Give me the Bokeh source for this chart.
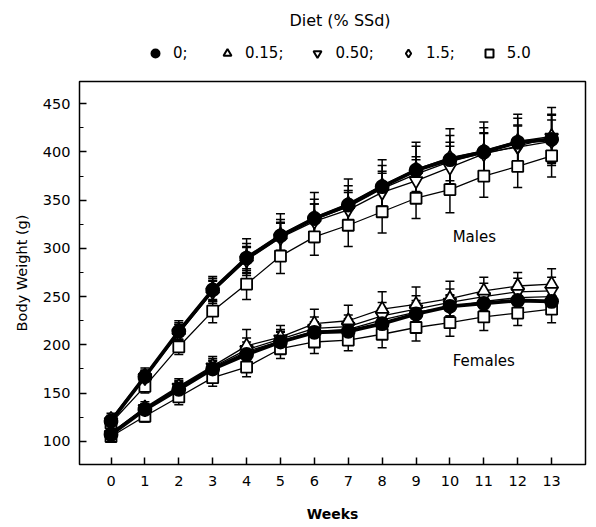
from bokeh.plotting import figure
from bokeh.layouts import column
from bokeh.models import (Range1d, ColumnDataSource, Whisker, TeeHead, Legend,
                          LegendItem, Label, FixedTicker, SingleIntervalTicker)
from bokeh.embed import file_html
from bokeh.resources import INLINE

weeks = list(range(14))
week_labels = [str(w) for w in weeks]
diet_labels = ["0;", "0.15;", "0.50;", "1.5;", "5.0"]

male_0   = [121, 167, 214, 257, 290, 313, 331, 345, 364, 381, 392, 400, 410, 413]
male_015 = [123, 168, 215, 258, 291, 314, 332, 346, 365, 382, 394, 401, 411, 416]
male_050 = [120, 166, 212, 255, 288, 311, 328, 340, 358, 370, 384, 398, 406, 415]
male_15  = [122, 167, 213, 256, 289, 312, 330, 343, 362, 377, 390, 399, 405, 411]
male_50  = [119, 157, 198, 235, 263, 292, 312, 324, 338, 352, 361, 375, 385, 396]

male_0_sd   = [5, 7, 9, 12, 15, 17, 20, 20, 22, 25, 25, 25, 25, 25]
male_015_sd = [6, 8, 10, 13, 19, 22, 26, 26, 27, 28, 30, 30, 28, 30]
male_050_sd = [5, 7, 9, 12, 14, 16, 18, 18, 20, 22, 22, 22, 22, 24]
male_15_sd  = [5, 6, 8, 10, 12, 14, 16, 17, 18, 18, 20, 20, 22, 22]
male_50_sd  = [5, 7, 8, 12, 16, 18, 19, 22, 22, 21, 24, 22, 22, 22]

female_0   = [107, 133, 154, 175, 190, 203, 213, 214, 222, 232, 240, 243, 246, 245]
female_015 = [109, 135, 157, 178, 199, 208, 222, 225, 237, 242, 248, 256, 261, 263]
female_050 = [107, 134, 156, 177, 195, 206, 217, 219, 230, 237, 244, 250, 255, 256]
female_15  = [106, 133, 155, 176, 193, 204, 214, 216, 226, 234, 239, 245, 249, 250]
female_50  = [105, 126, 146, 166, 177, 196, 203, 205, 211, 218, 223, 229, 233, 237]

female_0_sd   = [4, 6, 7, 8, 10, 10, 11, 11, 12, 12, 12, 12, 12, 12]
female_015_sd = [4, 6, 8, 10, 17, 12, 15, 16, 18, 18, 18, 14, 14, 16]
female_050_sd = [4, 5, 7, 9, 12, 10, 12, 12, 14, 14, 14, 14, 14, 14]
female_15_sd  = [4, 5, 7, 8, 10, 10, 10, 11, 12, 12, 12, 12, 12, 12]
female_50_sd  = [4, 6, 8, 9, 10, 10, 12, 11, 14, 14, 14, 14, 13, 14]

FONT = "DejaVu Sans"
W = 596
TOP_H = 78
MAIN_H = 527 - TOP_H
LEFT = 79
RIGHT = 11

# ---------------- main chart ----------------
p = figure(width=W, height=MAIN_H, output_backend="svg", toolbar_location=None,
           x_range=Range1d(-0.93, 14.0), y_range=Range1d(76, 473),
           min_border_left=LEFT, min_border_right=RIGHT, min_border_top=3,
           min_border_bottom=63)
p.grid.visible = False
p.outline_line_color = "black"
p.outline_line_width = 1.5
p.background_fill_color = "white"
p.border_fill_color = "white"

for ax in (p.xaxis[0], p.yaxis[0]):
    ax.axis_line_color = None
    ax.major_tick_in = 7
    ax.major_tick_out = 0
    ax.minor_tick_in = 4
    ax.minor_tick_out = 0
    ax.major_tick_line_width = 1.5
    ax.major_tick_line_color = "black"
    ax.minor_tick_line_color = "black"
    ax.major_label_text_font = FONT
    ax.major_label_text_font_size = "14.5px"
    ax.major_label_text_color = "black"
    ax.axis_label_text_font = FONT
    ax.axis_label_text_color = "black"

p.xaxis.ticker = FixedTicker(ticks=weeks)
p.xaxis.major_label_overrides = {w: l for w, l in zip(weeks, week_labels)}
p.xaxis.minor_tick_line_color = None
p.xaxis.major_label_standoff = 11
p.xaxis.axis_label = "Weeks"
p.xaxis.axis_label_text_font_style = "bold"
p.xaxis.axis_label_text_font_size = "14px"
p.xaxis.axis_label_standoff = 17

p.yaxis.ticker = SingleIntervalTicker(interval=50, num_minor_ticks=2)
p.yaxis.major_label_standoff = 9
p.yaxis.axis_label = "Body Weight (g)"
p.yaxis.axis_label_text_font_style = "normal"
p.yaxis.axis_label_text_font_size = "14.5px"
p.yaxis.axis_label_standoff = 10

series = [
    # (males, males_sd, females, females_sd, marker, fill, line width, size, label index)
    (male_50, male_50_sd, female_50, female_50_sd, "square", "white", 1.3, 11, 4),
    (male_15, male_15_sd, female_15, female_15_sd, "diamond", "white", 1.3, 14, 3),
    (male_050, male_050_sd, female_050, female_050_sd, "inverted_triangle", "white", 1.3, 13, 2),
    (male_015, male_015_sd, female_015, female_015_sd, "triangle", "white", 1.3, 13, 1),
    (male_0, male_0_sd, female_0, female_0_sd, "circle", "black", 3.8, 13, 0),
]

for m, msd, f, fsd, marker, fill, lw, size, li in series:
    for vals, sds in ((m, msd), (f, fsd)):
        src = ColumnDataSource(dict(
            x=weeks, y=vals,
            upper=[v + s for v, s in zip(vals, sds)],
            lower=[v - s for v, s in zip(vals, sds)]))
        w = Whisker(source=src, base="x", upper="upper", lower="lower",
                    line_color="black", line_width=1.5,
                    upper_head=TeeHead(size=9, line_width=1.5, line_color="black"),
                    lower_head=TeeHead(size=9, line_width=1.5, line_color="black"),
                    level="underlay")
        p.add_layout(w)
        p.line("x", "y", source=src, line_color="black", line_width=lw)
        p.scatter("x", "y", source=src, marker=marker, size=size,
                  fill_color=fill, line_color="black", line_width=1.8)

p.add_layout(Label(x=10.72, y=311.3, text="Males", text_font=FONT,
                   text_font_size="15px", text_align="center",
                   text_baseline="middle", text_color="black"))
p.add_layout(Label(x=11.0, y=183.7, text="Females", text_font=FONT,
                   text_font_size="15px", text_align="center",
                   text_baseline="middle", text_color="black"))

# ---------------- key (title + legend) ----------------
# frame of this strip spans the same page columns as the chart frame,
# so its x range is expressed in page pixels
top = figure(width=W, height=TOP_H, output_backend="svg", toolbar_location=None,
             x_range=Range1d(LEFT, W - RIGHT), y_range=Range1d(0, TOP_H),
             min_border_left=LEFT, min_border_right=RIGHT,
             min_border_top=0, min_border_bottom=0)
top.axis.visible = False
top.grid.visible = False
top.outline_line_color = None
top.background_fill_color = "white"
top.border_fill_color = "white"

key_renderers = {}
for m, msd, f, fsd, marker, fill, lw, size, li in series:
    key_renderers[li] = top.scatter(x=[-1000], y=[-1000], marker=marker,
                                    size=size, fill_color=fill,
                                    line_color="black", line_width=2)

items = [LegendItem(label=diet_labels[i], renderers=[key_renderers[i]])
         for i in range(5)]
legend = Legend(items=items, orientation="horizontal", location=(145 - LEFT, 15),
                glyph_width=20, glyph_height=20, label_standoff=8, spacing=24,
                label_height=16, padding=0, margin=0, border_line_alpha=0,
                background_fill_alpha=0, label_text_font=FONT,
                label_text_font_size="15px", label_text_color="black")
top.add_layout(legend)

top.add_layout(Label(x=339.5, y=TOP_H - 20, text="Diet (% SSd)", text_font=FONT,
                     text_font_size="16px", text_align="center",
                     text_baseline="middle", text_color="black"))

layout = column(top, p, spacing=0)
open("out.html", "w").write(file_html(layout, INLINE))
